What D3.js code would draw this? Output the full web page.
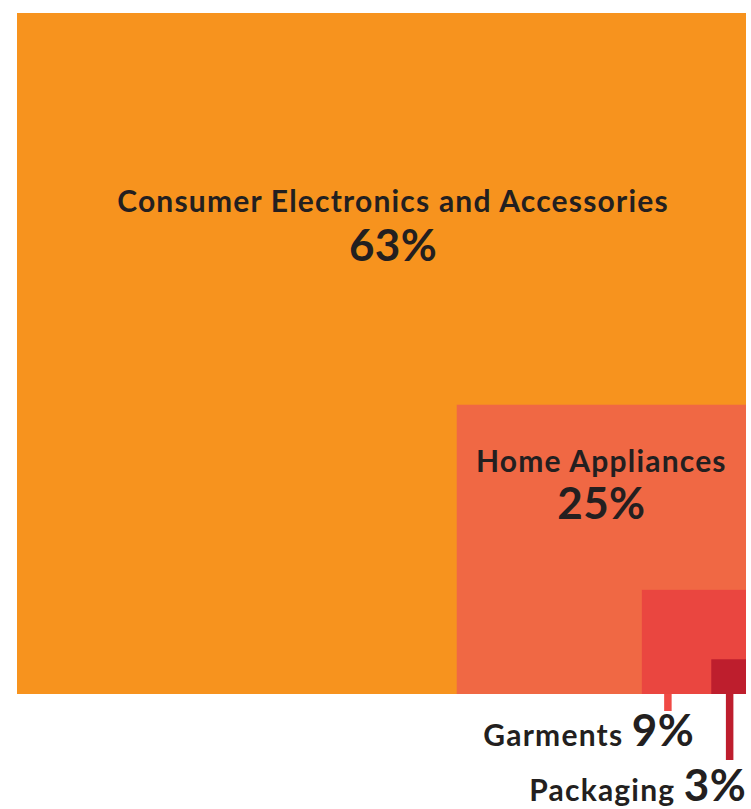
<!DOCTYPE html>
<html>
<head>
<meta charset="utf-8">
<script src="https://d3js.org/d3.v7.min.js"></script>
<style>
  body { margin: 0; background: #fff; }
  text { font-family: Lato, "Open Sans", sans-serif; font-weight: bold; fill: #231f20; }
  .name { font-size: 30px; letter-spacing: 1.2px; }
  .pct { font-size: 44px; letter-spacing: 0.3px; }
</style>
</head>
<body>
<div id="chart"></div>
<script>
// data
var categories = ["Consumer Electronics and Accessories", "Home Appliances", "Garments", "Packaging"];
var shares = [63, 25, 9, 3];
var colors = ["#f7931e", "#f06844", "#ea4640", "#be1e2d"];
var lineColors = ["none", "none", "#f04a45", "#be1e2d"];

var W = 751, H = 809;
var margin = {top: 13, right: 5, bottom: 115, left: 17};
var right = W - margin.right, bottom = H - margin.bottom;

var svg = d3.select("#chart").append("svg")
  .attr("width", W)
  .attr("height", H);

// side of each square grows linearly with the share
var side = d3.scaleLinear()
  .domain([0, d3.max(shares)])
  .range([0, right - margin.left]);

svg.append("clipPath").attr("id", "clip")
  .append("rect")
  .attr("x", margin.left).attr("y", margin.top)
  .attr("width", right - margin.left).attr("height", bottom - margin.top);

var data = categories.map(function(c, i) {
  return {name: c, value: shares[i], color: colors[i], line: lineColors[i]};
});

svg.append("g").attr("clip-path", "url(#clip)")
  .selectAll("rect")
  .data(data)
  .join("rect")
    .attr("x", d => right - side(d.value))
    .attr("y", d => bottom - side(d.value))
    .attr("width", d => side(d.value))
    .attr("height", d => side(d.value))
    .attr("fill", d => d.color);

// labels inside the two big squares
var big = data[0], ha = data[1];
svg.append("text").attr("class", "name")
  .attr("x", 393).attr("y", margin.top + 199)
  .attr("text-anchor", "middle")
  .text(big.name);
svg.append("text").attr("class", "pct")
  .attr("x", 393).attr("y", margin.top + 248)
  .attr("text-anchor", "middle")
  .text(big.value + "%");

var hx = right - side(ha.value) / 2, hy = bottom - side(ha.value);
svg.append("text").attr("class", "name")
  .attr("x", hx).attr("y", hy + 67)
  .attr("text-anchor", "middle")
  .text(ha.name);
svg.append("text").attr("class", "pct")
  .attr("x", hx).attr("y", hy + 114)
  .attr("text-anchor", "middle")
  .text(ha.value + "%");

// leader lines + outside labels for the small squares
var small = [
  {d: data[2], lx: function(s) { return right - s * 0.75; }, len: 17, tx: 694, ty: bottom + 52},
  {d: data[3], lx: function(s) { return right - s * 0.5 + 1; }, len: 66, tx: right, ty: bottom + 107}
];

small.forEach(function(o) {
  var s = side(o.d.value);
  svg.append("line")
    .attr("x1", o.lx(s)).attr("x2", o.lx(s))
    .attr("y1", bottom).attr("y2", bottom + o.len)
    .attr("stroke", o.d.line).attr("stroke-width", 7.5);
  var t = svg.append("text")
    .attr("x", o.tx).attr("y", o.ty)
    .attr("text-anchor", "end");
  t.append("tspan").attr("class", "name").text(o.d.name + " ");
  t.append("tspan").attr("class", "pct").text(o.d.value + "%");
});
</script>
</body>
</html>
